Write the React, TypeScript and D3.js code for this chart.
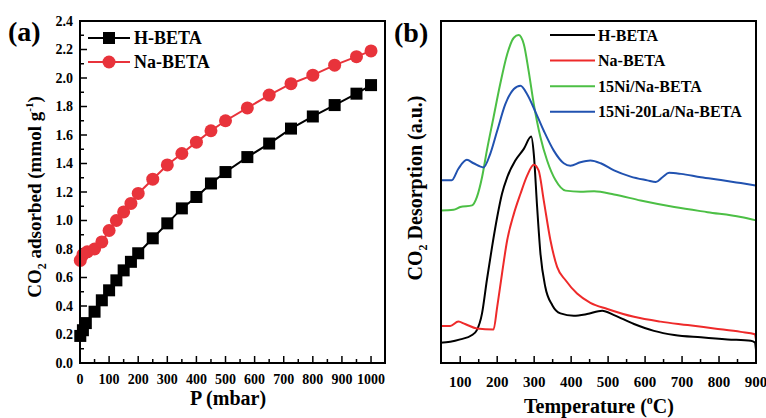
import React from "react";
import * as d3 from "d3";

// ---------- Panel (a) data: CO2 adsorption isotherms ----------
const pressureH = [1, 10, 20, 50, 75, 100, 125, 150, 175, 200, 250, 300, 350, 400, 450, 500, 575, 650, 725, 800, 875, 950, 1000];
const adsorbedH = [0.19, 0.23, 0.28, 0.36, 0.44, 0.51, 0.58, 0.65, 0.71, 0.77, 0.875, 0.98, 1.085, 1.165, 1.26, 1.34, 1.445, 1.54, 1.645, 1.73, 1.81, 1.89, 1.95];
const pressureNa = [1, 10, 25, 50, 75, 100, 125, 150, 175, 200, 250, 300, 350, 400, 450, 500, 575, 650, 725, 800, 875, 950, 1000];
const adsorbedNa = [0.72, 0.76, 0.78, 0.8, 0.85, 0.93, 1.0, 1.06, 1.12, 1.19, 1.29, 1.39, 1.47, 1.55, 1.63, 1.7, 1.79, 1.88, 1.96, 2.02, 2.09, 2.15, 2.19];
const xTicksA = [0, 100, 200, 300, 400, 500, 600, 700, 800, 900, 1000];
const yTicksA = [0.0, 0.2, 0.4, 0.6, 0.8, 1.0, 1.2, 1.4, 1.6, 1.8, 2.0, 2.2, 2.4];

// ---------- Panel (b) data: CO2-TPD profiles (a.u.) ----------
const tempH = [46, 73, 100, 132, 145, 159, 172, 186, 200, 213, 227, 249, 272, 292, 299, 308, 317, 330, 349, 371, 407, 443, 484, 516, 570, 624, 679, 751, 823, 886, 897, 900];
const signalH = [5.9, 6.2, 6.9, 8.2, 9.6, 14.5, 24.2, 33.9, 42.7, 49.5, 54.3, 59.2, 62.6, 66.2, 61.1, 45.6, 32, 22.3, 16.9, 14.5, 13.8, 14.3, 15.3, 14, 11.4, 9.4, 8.2, 7.5, 6.9, 6.5, 6.0, 3.8];
const tempNa = [46, 73, 95, 113, 145, 190, 200, 213, 227, 245, 263, 281, 299, 312, 326, 344, 362, 385, 416, 452, 498, 570, 642, 715, 787, 859, 897, 900];
const signalNa = [10.8, 10.8, 12.1, 11.4, 10.1, 9.8, 16.4, 26.1, 35.9, 43.6, 49.5, 54.8, 58, 56.3, 47.5, 35.9, 28.1, 24.2, 20.3, 17.6, 15.8, 13.5, 12.1, 11.1, 10.1, 9.1, 8.4, 6.8];
const tempNi = [46, 82, 100, 132, 145, 159, 172, 190, 208, 227, 245, 258, 272, 285, 299, 317, 335, 358, 385, 425, 462, 516, 588, 679, 769, 859, 900];
const signalNi = [44.6, 44.8, 45.6, 46.1, 48.5, 54.3, 62.1, 71.8, 81.5, 90.3, 95.1, 95.9, 93.2, 85.4, 75.7, 66, 59.2, 53.4, 50.4, 50.1, 50.2, 49.3, 47.5, 45.6, 44.1, 42.7, 41.7];
const tempNiLa = [46, 77, 95, 118, 136, 163, 181, 200, 222, 245, 263, 281, 304, 326, 353, 380, 398, 425, 452, 480, 516, 561, 606, 629, 647, 665, 697, 751, 805, 859, 900];
const signalNiLa = [53.4, 53.4, 56.8, 59.4, 58.4, 57.2, 61.1, 67.9, 75.7, 80.1, 81.1, 78.6, 73.3, 67.9, 62.1, 58.4, 57.7, 58.7, 59.2, 58.4, 56.3, 54.5, 53.4, 52.9, 54.3, 55.6, 55.3, 54.3, 53.5, 52.6, 51.9];
const xTicksB = [100, 200, 300, 400, 500, 600, 700, 800, 900];

const seriesB = [
  { name: "H-BETA", t: tempH, s: signalH, color: "#000000" },
  { name: "Na-BETA", t: tempNa, s: signalNa, color: "#ee2a2a" },
  { name: "15Ni/Na-BETA", t: tempNi, s: signalNi, color: "#4cbf45" },
  { name: "15Ni-20La/Na-BETA", t: tempNiLa, s: signalNiLa, color: "#2152b0" },
];

const FONT = "'Liberation Serif', 'Times New Roman', serif";

export default function App() {
  // Panel (a) geometry
  const aL = 80, aR = 385, aT = 21, aB = 363;
  const xA = d3.scaleLinear().domain([0, 1048]).range([aL, aR]);
  const yA = d3.scaleLinear().domain([0, 2.4]).range([aB, aT]);
  const lineA = d3.line<[number, number]>().x((d) => xA(d[0])).y((d) => yA(d[1]));
  const ptsH: [number, number][] = pressureH.map((p, i) => [p, adsorbedH[i]]);
  const ptsNa: [number, number][] = pressureNa.map((p, i) => [p, adsorbedNa[i]]);
  const minorXA = d3.range(50, 1001, 100);
  const minorYA = d3.range(0.1, 2.4, 0.2);

  // Panel (b) geometry
  const bL = 441, bR = 756, bT = 21, bB = 363;
  const xB = d3.scaleLinear().domain([48, 900]).range([bL, bR]);
  const yB = d3.scaleLinear().domain([0, 100]).range([bB, bT]);
  const lineB = d3
    .line<[number, number]>()
    .x((d) => xB(d[0]))
    .y((d) => yB(d[1]))
    .curve(d3.curveMonotoneX);
  const minorXB = d3.range(150, 900, 100);

  const red = "#e8333b";

  return (
    <svg width={766} height={418} style={{ position: "absolute", left: 0, top: 0, background: "#fff" }} fontFamily={FONT} fontWeight="bold">
      <rect x={0} y={0} width={766} height={418} fill="#fff" />
      {/* ================= Panel (a) ================= */}
      <text x={8} y={41} fontSize={28}>(a)</text>
      {/* ticks */}
      {xTicksA.map((t) => (
        <line key={"xa" + t} x1={xA(t)} x2={xA(t)} y1={aB} y2={aB - 7} stroke="#000" strokeWidth={1.5} />
      ))}
      {minorXA.map((t) => (
        <line key={"xam" + t} x1={xA(t)} x2={xA(t)} y1={aB} y2={aB - 4} stroke="#000" strokeWidth={1.5} />
      ))}
      {yTicksA.map((t) => (
        <line key={"ya" + t} x1={aL} x2={aL + 7} y1={yA(t)} y2={yA(t)} stroke="#000" strokeWidth={1.5} />
      ))}
      {minorYA.map((t) => (
        <line key={"yam" + t} x1={aL} x2={aL + 4} y1={yA(t)} y2={yA(t)} stroke="#000" strokeWidth={1.5} />
      ))}
      {xTicksA.map((t) => (
        <text key={"xal" + t} x={xA(t)} y={384} fontSize={14} textAnchor="middle">{t}</text>
      ))}
      {yTicksA.map((t) => (
        <text key={"yal" + t} x={73} y={yA(t)} dy="0.35em" fontSize={14} textAnchor="end">{t.toFixed(1)}</text>
      ))}
      {/* series */}
      <path d={lineA(ptsH) || ""} fill="none" stroke="#000" strokeWidth={2} />
      <path d={lineA(ptsNa) || ""} fill="none" stroke={red} strokeWidth={2} />
      {ptsH.map((d, i) => (
        <rect key={"h" + i} x={xA(d[0]) - 6} y={yA(d[1]) - 6} width={12} height={12} fill="#000" />
      ))}
      {ptsNa.map((d, i) => (
        <circle key={"n" + i} cx={xA(d[0])} cy={yA(d[1])} r={6.5} fill={red} />
      ))}
      {/* legend */}
      <line x1={88} x2={130} y1={38} y2={38} stroke="#000" strokeWidth={2} />
      <rect x={103} y={32} width={12} height={12} fill="#000" />
      <text x={134} y={44} fontSize={18}>H-BETA</text>
      <line x1={88} x2={130} y1={62} y2={62} stroke={red} strokeWidth={2} />
      <circle cx={109} cy={62} r={6.5} fill={red} />
      <text x={134} y={68} fontSize={18}>Na-BETA</text>
      {/* frame */}
      <rect x={aL} y={aT} width={aR - aL} height={aB - aT} fill="none" stroke="#000" strokeWidth={2} />
      {/* axis titles */}
      <text x={228} y={405} fontSize={20} textAnchor="middle">P (mbar)</text>
      <text transform={`translate(41,197) rotate(-90)`} fontSize={19} textAnchor="middle">
        CO<tspan fontSize={12} dy={5}>2</tspan>
        <tspan dy={-5}> adsorbed (mmol g</tspan>
        <tspan fontSize={11} dy={-8}>-1</tspan>
        <tspan dy={8}>)</tspan>
      </text>

      {/* ================= Panel (b) ================= */}
      <text x={394} y={42} fontSize={28}>(b)</text>
      {xTicksB.map((t) => (
        <line key={"xb" + t} x1={xB(t)} x2={xB(t)} y1={bB} y2={bB - 7} stroke="#000" strokeWidth={1.5} />
      ))}
      {minorXB.map((t) => (
        <line key={"xbm" + t} x1={xB(t)} x2={xB(t)} y1={bB} y2={bB - 4} stroke="#000" strokeWidth={1.5} />
      ))}
      {xTicksB.map((t) => (
        <text key={"xbl" + t} x={xB(t)} y={387} fontSize={15} textAnchor="middle">{t}</text>
      ))}
      {seriesB.map((s) => (
        <path
          key={s.name}
          d={lineB(s.t.map((t, i) => [t, s.s[i]] as [number, number])) || ""}
          fill="none"
          stroke={s.color}
          strokeWidth={2}
        />
      ))}
      {seriesB.map((s, i) => (
        <g key={"lg" + s.name}>
          <line x1={550} x2={595} y1={35 + i * 25.6} y2={35 + i * 25.6} stroke={s.color} strokeWidth={2} />
          <text x={598} y={35 + i * 25.6} dy="0.35em" fontSize={16}>{s.name}</text>
        </g>
      ))}
      <rect x={bL} y={bT} width={bR - bL} height={bB - bT} fill="none" stroke="#000" strokeWidth={2} />
      <text x={599} y={413} fontSize={20} textAnchor="middle">
        Temperature (<tspan fontSize={12} dy={-9}>o</tspan><tspan dy={9}>C)</tspan>
      </text>
      <text transform={`translate(422,188) rotate(-90)`} fontSize={20} textAnchor="middle">
        CO<tspan fontSize={12} dy={5}>2</tspan>
        <tspan dy={-5}> Desorption (a.u.)</tspan>
      </text>
    </svg>
  );
}
